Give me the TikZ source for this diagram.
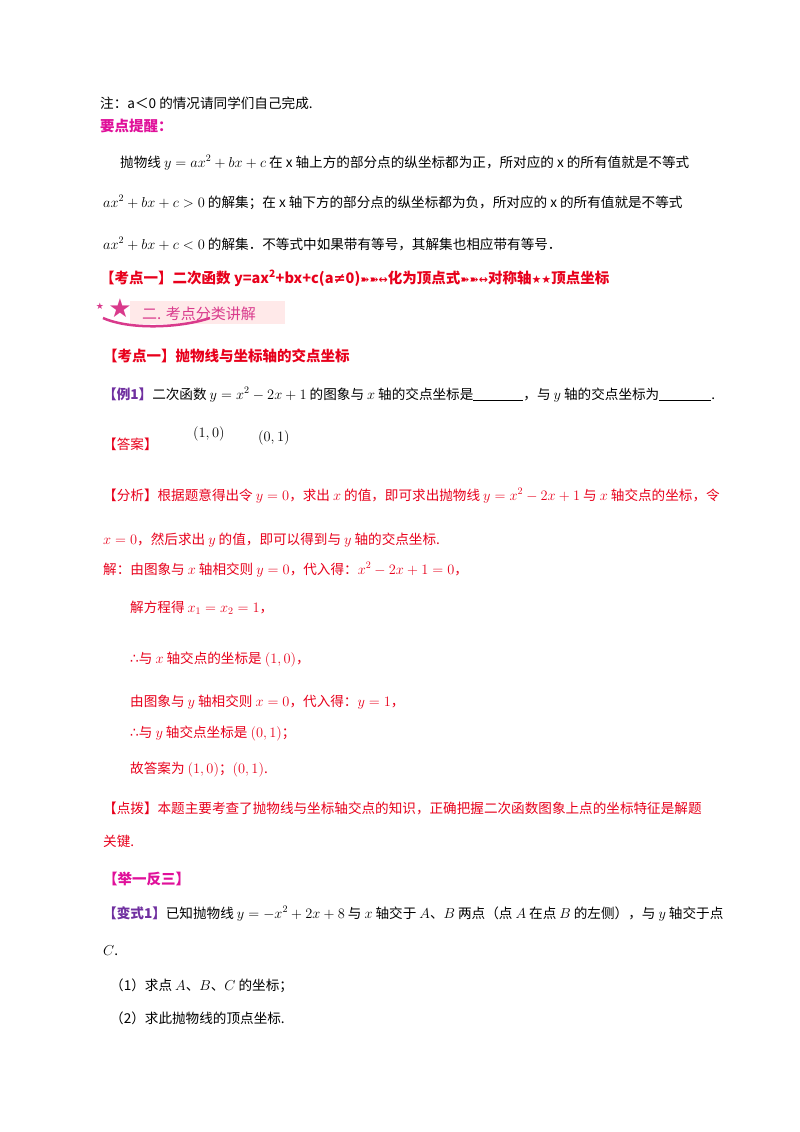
\documentclass[tikz,border=0pt]{standalone}
\usepackage{fontspec}
\newfontfamily\cjk{Noto Sans CJK SC}
\newfontfamily\dv{DejaVu Sans}
\definecolor{rd}{HTML}{E8001C}
\definecolor{mg}{HTML}{E0109A}
\definecolor{pu}{HTML}{7030A0}
\definecolor{pk}{HTML}{D93A8C}
\tikzset{t/.style={anchor=base west,inner sep=0pt,font=\cjk\fontsize{13.6}{15}\selectfont},
 b/.style={t,font=\cjk\bfseries\fontsize{14.5}{16}\selectfont}}
\begin{document}
\begin{tikzpicture}[x=1pt,y=-1pt]
\useasboundingbox[fill=white] (0,0) rectangle (800,1132);
\node[t] (l1) at (100,108) {注：a＜0 的情况请同学们自己完成.};
\node[b,text=mg] (l2) at (100,131) {要点提醒：};
\node[t] (l3) at (120,167) {抛物线 $y=ax^2+bx+c$ 在 x 轴上方的部分点的纵坐标都为正，所对应的 x 的所有值就是不等式};
\node[t] (l4) at (103,207) {$ax^2+bx+c>0$ 的解集；在 x 轴下方的部分点的纵坐标都为负，所对应的 x 的所有值就是不等式};
\node[t] (l5) at (103,249) {$ax^2+bx+c<0$ 的解集．不等式中如果带有等号，其解集也相应带有等号．};
\node[b,text=rd] (l6) at (100,283) {【考点一】二次函数 y=ax\textsuperscript{2}+bx+c(a{\dv ≠}0){\dv\bfseries\fontsize{11}{12}\selectfont ➽➽↔}化为顶点式{\dv\bfseries\fontsize{11}{12}\selectfont ➽➽↔}对称轴{\dv\fontsize{11}{12}\selectfont ★★}顶点坐标};
% banner
\fill[pink!35] (130,301) rectangle (285,324);
\node[text=pk,font=\dv\fontsize{26}{28}\selectfont] (star) at (120,308) {★};
\node[text=pk,font=\dv\small] (st2) at (100,306) {★};
\draw[pk,line width=2.5pt] (103,318) .. controls (130,330) and (180,328) .. (210,318);
\node[t,text=pk,font=\cjk\fontsize{15}{17}\selectfont] (ban) at (142,319) {二. 考点分类讲解};
\node[b,text=rd] (k1) at (103,361) {【考点一】抛物线与坐标轴的交点坐标};
\node[t] (e1) at (103,399) {{\bfseries\color{pu}【例1】}二次函数 $y=x^2-2x+1$ 的图象与 $x$ 轴的交点坐标是\underline{\hspace{50pt}}，与 $y$ 轴的交点坐标为\underline{\hspace{52pt}}.};
\node[t,text=rd] (ans) at (103,449) {【答案】};
\node[t] (a1) at (193,437) {$(1,0)$};
\node[t] (a2) at (258,441) {$(0,1)$};
\node[t,text=rd] (fx) at (103,500) {【分析】根据题意得出令 $y=0$，求出 $x$ 的值，即可求出抛物线 $y=x^2-2x+1$ 与 $x$ 轴交点的坐标，令};
\node[t,text=rd] (fx2) at (103,544) {$x=0$，然后求出 $y$ 的值，即可以得到与 $y$ 轴的交点坐标.};
\node[t,text=rd] (s1) at (103,574) {解：由图象与 $x$ 轴相交则 $y=0$，代入得：$x^2-2x+1=0$，};
\node[t,text=rd] (s2) at (130,612) {解方程得 $x_1=x_2=1$，};
\node[t,text=rd] (s3) at (130,663) {{\dv ∴}与 $x$ 轴交点的坐标是 $(1,0)$，};
\node[t,text=rd] (s4) at (130,706) {由图象与 $y$ 轴相交则 $x=0$，代入得：$y=1$，};
\node[t,text=rd] (s5) at (130,737) {{\dv ∴}与 $y$ 轴交点坐标是 $(0,1)$；};
\node[t,text=rd] (s6) at (130,773) {故答案为 $(1,0)$；$(0,1)$.};
\node[t,text=rd] (db) at (103,813) {【点拨】本题主要考查了抛物线与坐标轴交点的知识，正确把握二次函数图象上点的坐标特征是解题};
\node[t,text=rd] (db2) at (103,846) {关键.};
\node[b,text=mg] (jy) at (103,884) {【举一反三】};
\node[t] (bs) at (103,918) {{\bfseries\color{pu}【变式1】}已知抛物线 $y=-x^2+2x+8$ 与 $x$ 轴交于 $A$、$B$ 两点（点 $A$ 在点 $B$ 的左侧），与 $y$ 轴交于点};
\node[t] (bs2) at (103,955) {$C$.};
\node[t] (q1) at (110,990) {（1）求点 $A$、$B$、$C$ 的坐标；};
\node[t] (q2) at (110,1023) {（2）求此抛物线的顶点坐标.};
\end{tikzpicture}
\end{document}
